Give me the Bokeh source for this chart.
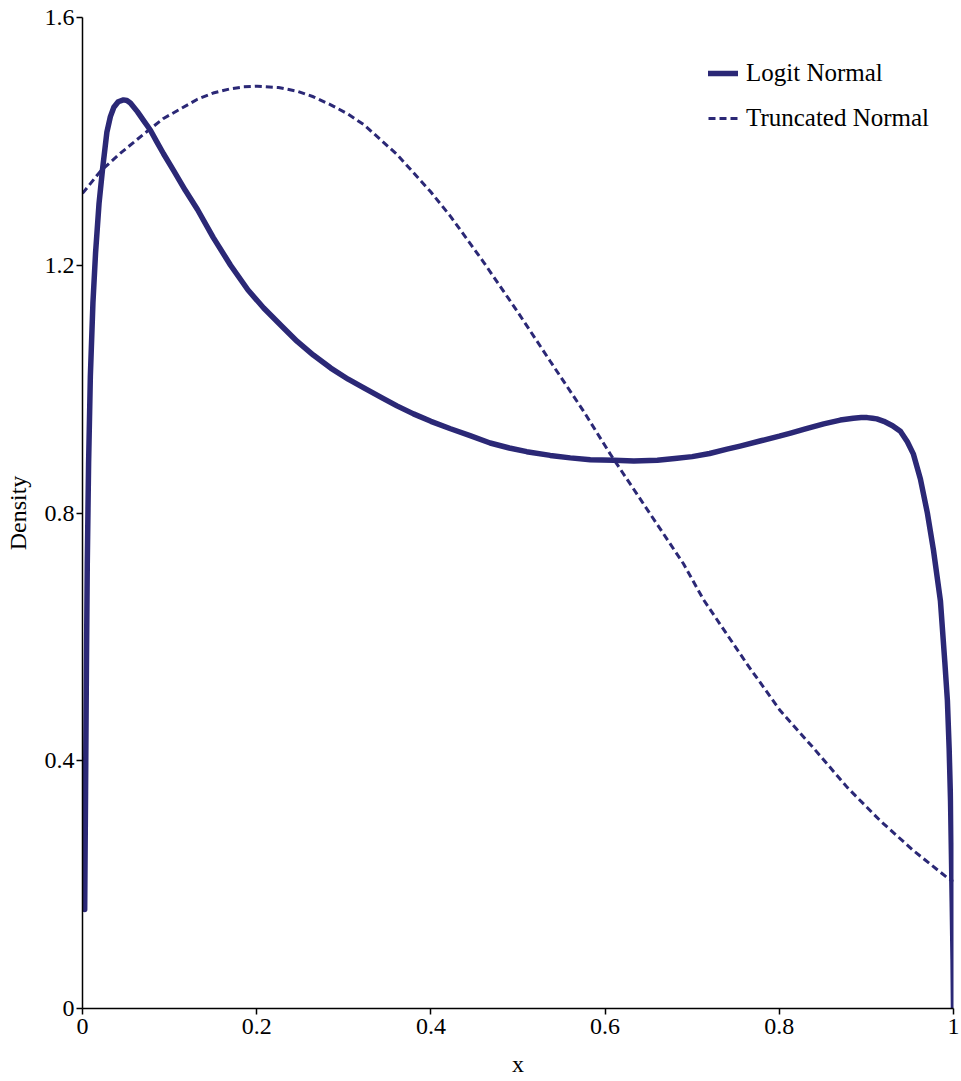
from bokeh.plotting import figure
from bokeh.models import Range1d, Legend, LegendItem, FixedTicker
from bokeh.embed import file_html
from bokeh.resources import INLINE

# Logit-normal density
logit_x = [0.0025, 0.0035, 0.0045, 0.0055, 0.007, 0.009, 0.012, 0.015, 0.019, 0.023,
           0.028, 0.032, 0.036, 0.041, 0.047, 0.051, 0.055, 0.063, 0.070, 0.078,
           0.085, 0.093, 0.105, 0.118, 0.132, 0.150, 0.170, 0.190, 0.208, 0.230,
           0.2465, 0.265, 0.285, 0.305, 0.323, 0.345, 0.361, 0.380, 0.400, 0.4225,
           0.445, 0.468, 0.490, 0.510, 0.537, 0.560, 0.583, 0.610, 0.633, 0.660,
           0.680, 0.700, 0.720, 0.740, 0.755, 0.780, 0.800, 0.813, 0.830, 0.851,
           0.870, 0.885, 0.894, 0.901, 0.907, 0.912, 0.920, 0.930, 0.939, 0.947,
           0.954, 0.962, 0.970, 0.977, 0.985, 0.990, 0.993, 0.995, 0.9966, 0.9985,
           0.9995, 1.0]
logit_y = [0.16, 0.35, 0.55, 0.72, 0.88, 1.02, 1.14, 1.22, 1.30, 1.355,
           1.415, 1.440, 1.455, 1.464, 1.467, 1.466, 1.462, 1.448, 1.434, 1.418,
           1.400, 1.380, 1.352, 1.321, 1.290, 1.245, 1.200, 1.160, 1.131, 1.100,
           1.077, 1.055, 1.034, 1.016, 1.002, 0.985, 0.973, 0.960, 0.948, 0.936,
           0.925, 0.913, 0.905, 0.899, 0.893, 0.889, 0.886, 0.885, 0.884, 0.885,
           0.888, 0.891, 0.896, 0.903, 0.908, 0.917, 0.924, 0.929, 0.936, 0.944,
           0.950, 0.953, 0.954, 0.954, 0.953, 0.952, 0.948, 0.941, 0.932, 0.915,
           0.895, 0.855, 0.800, 0.740, 0.658, 0.560, 0.497, 0.420, 0.335, 0.174,
           0.080, 0.0]

# Truncated-normal density
trunc_x = [0.0, 0.0207, 0.0436, 0.074, 0.093, 0.132, 0.150, 0.170, 0.185, 0.2005,
           0.225, 0.2465, 0.265, 0.285, 0.305, 0.323, 0.361, 0.3995, 0.4225, 0.460,
           0.499, 0.537, 0.575, 0.606, 0.652, 0.690, 0.713, 0.763, 0.801, 0.839,
           0.878, 0.916, 0.954, 0.993, 1.0]
trunc_y = [1.316, 1.352, 1.381, 1.416, 1.437, 1.468, 1.478, 1.485, 1.488, 1.489,
           1.487, 1.481, 1.472, 1.459, 1.444, 1.427, 1.379, 1.319, 1.279, 1.206,
           1.126, 1.045, 0.965, 0.895, 0.798, 0.718, 0.660, 0.556, 0.481, 0.421,
           0.357, 0.303, 0.255, 0.211, 0.205]

x_ticks = [0, 0.2, 0.4, 0.6, 0.8, 1]
y_ticks = [0, 0.4, 0.8, 1.2, 1.6]
x_tick_labels = {0: "0", 0.2: "0.2", 0.4: "0.4", 0.6: "0.6", 0.8: "0.8", 1: "1"}
y_tick_labels = {0: "0", 0.4: "0.4", 0.8: "0.8", 1.2: "1.2", 1.6: "1.6"}

COLOR = "#2b2876"
FONT = "Liberation Serif"

p = figure(width=960, height=1080, output_backend="svg", toolbar_location=None,
           x_range=Range1d(0, 1), y_range=Range1d(0, 1.6),
           min_border_left=82, min_border_right=7, min_border_top=17, min_border_bottom=72)
p.outline_line_color = None
p.xgrid.grid_line_color = None
p.ygrid.grid_line_color = None
p.background_fill_color = "white"

r1 = p.line(logit_x, logit_y, line_color=COLOR, line_width=5.5, line_join="round", line_cap="round")
r2 = p.line(trunc_x, trunc_y, line_color=COLOR, line_width=3, line_dash="7 4")

for ax in (p.xaxis[0], p.yaxis[0]):
    ax.axis_line_color = "black"
    ax.axis_line_width = 1.5
    ax.major_tick_line_color = "black"
    ax.major_tick_line_width = 1.5
    ax.major_tick_out = 6
    ax.major_tick_in = 0
    ax.minor_tick_line_color = None
    ax.major_label_text_font = FONT
    ax.major_label_text_font_size = "24px"
    ax.major_label_text_color = "black"
    ax.axis_label_text_font = FONT
    ax.axis_label_text_font_size = "24px"
    ax.axis_label_text_font_style = "normal"
    ax.axis_label_text_color = "black"

p.xaxis[0].ticker = FixedTicker(ticks=x_ticks)
p.yaxis[0].ticker = FixedTicker(ticks=y_ticks)
p.xaxis[0].major_label_overrides = x_tick_labels
p.yaxis[0].major_label_overrides = y_tick_labels
p.xaxis[0].axis_label = "x"
p.yaxis[0].axis_label = "Density"
p.xaxis[0].major_label_standoff = 4
p.yaxis[0].major_label_standoff = 2
p.xaxis[0].axis_label_standoff = 14
p.yaxis[0].axis_label_standoff = 11

legend = Legend(items=[LegendItem(label="Logit Normal", renderers=[r1]),
                       LegendItem(label="Truncated Normal", renderers=[r2])],
                location=(626, 876), orientation="vertical")
legend.border_line_color = None
legend.background_fill_alpha = 0
legend.padding = 0
legend.margin = 0
legend.spacing = 17
legend.glyph_width = 30
legend.glyph_height = 24
legend.label_standoff = 8
legend.label_text_font = FONT
legend.label_text_font_size = "25px"
legend.label_text_color = "black"
legend.label_height = 24
p.add_layout(legend, "center")

open("out.html", "w").write(file_html(p, INLINE))
